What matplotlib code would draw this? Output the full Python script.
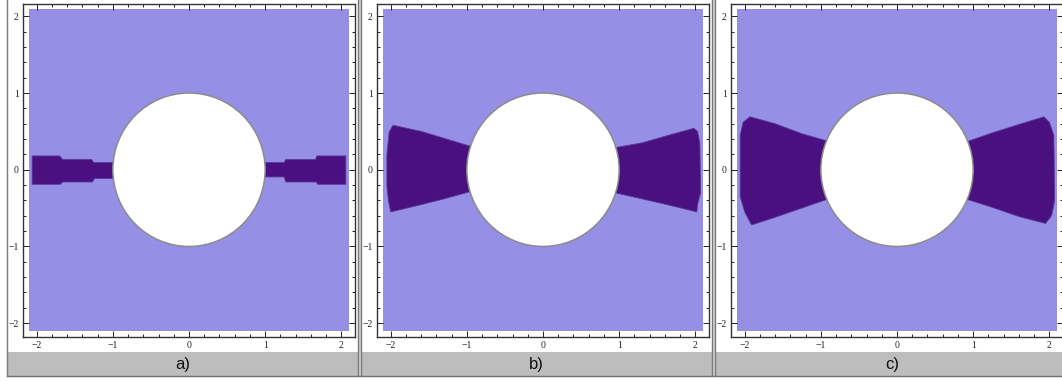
import matplotlib

matplotlib.use("Agg")
import matplotlib.pyplot as plt
from matplotlib.patches import Circle, Polygon, Rectangle
from matplotlib.ticker import MultipleLocator

W, H = 1062, 381
LIGHT, DARK, RIM, BAR = "#958fe6", "#4a1080", "#8c8c8c", "#bdbdbd"

PANEL_LABELS = ["a)", "b)", "c)"]
TICKS = [-2, -1, 0, 1, 2]
PLOT_RANGE = 2.1   # extent of the region plot
DISC_R = 1.0

# dark lobes as (x, y) outlines; the ends near the disc run underneath it
LOBE_A_LEFT = [(-2.06, 0.18), (-1.70, 0.18), (-1.66, 0.135), (-1.28, 0.135), (-1.25, 0.095),
               (-0.9, 0.095), (-0.9, -0.115), (-1.24, -0.115), (-1.27, -0.16), (-1.66, -0.16),
               (-1.69, -0.19), (-2.06, -0.19)]
LOBE_A_RIGHT = [(0.9, 0.094), (1.25, 0.094), (1.27, 0.133), (1.66, 0.133), (1.68, 0.18),
                (2.06, 0.18), (2.06, -0.19), (1.69, -0.19), (1.67, -0.16), (1.27, -0.16),
                (1.25, -0.094), (0.9, -0.094)]
LOBE_B_LEFT = [(-1.97, 0.58), (-1.60, 0.50), (-1.30, 0.41), (-0.90, 0.29), (-0.90, -0.27),
               (-1.30, -0.38), (-1.62, -0.46), (-2.00, -0.55), (-2.03, -0.40), (-2.05, -0.22),
               (-2.05, 0.20), (-2.02, 0.49)]
LOBE_B_RIGHT = [(0.90, 0.28), (1.30, 0.35), (1.65, 0.45), (1.98, 0.54), (2.03, 0.50),
                (2.06, 0.35), (2.07, -0.30), (2.03, -0.45), (2.02, -0.55), (1.65, -0.46),
                (1.30, -0.38), (0.90, -0.29)]
LOBE_C_LEFT = [(-1.93, 0.69), (-1.60, 0.60), (-1.25, 0.47), (-0.90, 0.37), (-0.90, -0.38),
               (-1.25, -0.50), (-1.60, -0.62), (-1.91, -0.72), (-2.00, -0.55), (-2.06, -0.35),
               (-2.06, 0.45), (-2.02, 0.62)]
LOBE_C_RIGHT = [(0.90, 0.36), (1.25, 0.48), (1.60, 0.59), (1.93, 0.69), (2.00, 0.62),
                (2.06, 0.45), (2.07, -0.40), (2.03, -0.60), (1.95, -0.70), (1.60, -0.61),
                (1.25, -0.49), (0.90, -0.38)]
LOBES = [(LOBE_A_LEFT, LOBE_A_RIGHT), (LOBE_B_LEFT, LOBE_B_RIGHT), (LOBE_C_LEFT, LOBE_C_RIGHT)]

# layout in pixels: frame left edges, frame size, cell separators, label bar
AX_LEFT_PX = [23, 377, 731]
AX_W_PX, AX_TOP_PX, AX_BOT_PX = 332, 4, 337
CELL_EDGES_PX = [(7, 358), (361, 712), (715, 1069)]
BAR_TOP_PX, BAR_BOT_PX = 352, 376
LIM = 2.18


def px_box(x0, y0, x1, y1):
    """pixel box (top-left origin) -> figure-fraction [left, bottom, width, height]"""
    return [x0 / W, 1 - y1 / H, (x1 - x0) / W, (y1 - y0) / H]


def fig_rect(fig, x0, y0, x1, y1, color):
    l, b, w, h = px_box(x0, y0, x1, y1)
    fig.add_artist(Rectangle((l, b), w, h, transform=fig.transFigure,
                             facecolor=color, edgecolor="none", zorder=0))


def signed(t):
    return f"{t:g}".replace("-", "\u2212")


fig = plt.figure(figsize=(W / 100, H / 100), dpi=100)
fig.patch.set_facecolor("white")

# label bar along the bottom and the light fill between double cell rules
fig_rect(fig, 7, BAR_TOP_PX, W, BAR_BOT_PX, BAR)
for a, b in ((358, 361), (712, 715)):
    fig_rect(fig, a, 0, b, BAR_BOT_PX, "#d4d4d4")

for i, (label, lobes) in enumerate(zip(PANEL_LABELS, LOBES)):
    x0 = AX_LEFT_PX[i]
    ax = fig.add_axes(px_box(x0, AX_TOP_PX, x0 + AX_W_PX, AX_BOT_PX))
    ax.set_xlim(-LIM, LIM)
    ax.set_ylim(-LIM, LIM - 0.02)
    ax.add_patch(Rectangle((-PLOT_RANGE, -PLOT_RANGE), 2 * PLOT_RANGE, 2 * PLOT_RANGE,
                           facecolor=LIGHT, edgecolor="none", zorder=1))
    for pts in lobes:
        ax.add_patch(Polygon(pts, closed=True, facecolor=DARK, edgecolor="#5a3a9a",
                             lw=0.6, joinstyle="round", zorder=2))
    ax.add_patch(Circle((0, 0), DISC_R, facecolor="white", edgecolor=RIM, lw=1.1, zorder=3))

    ax.set_xticks(TICKS, [signed(t) for t in TICKS])
    ax.set_yticks(TICKS, [signed(t) for t in TICKS])
    ax.xaxis.set_minor_locator(MultipleLocator(0.2))
    ax.yaxis.set_minor_locator(MultipleLocator(0.2))
    ax.tick_params(which="both", direction="in", top=True, right=True, color="#222222",
                   width=0.7, labelsize=7, pad=3, labelcolor="#222222")
    ax.tick_params(which="major", length=4.5)
    ax.tick_params(which="minor", length=2.5)
    for lab in ax.get_xticklabels() + ax.get_yticklabels():
        lab.set_fontfamily("Liberation Serif")
    for s in ax.spines.values():
        s.set_color("#333333")
        s.set_linewidth(1.0)

    c0, c1 = CELL_EDGES_PX[i]
    fig.text(((c0 + c1) / 2) / W, 1 - ((BAR_TOP_PX + BAR_BOT_PX) / 2 + 1) / H, label,
             ha="center", va="center", fontsize=12, family="Liberation Sans", color="#111111")

# cell frame rules
fig.add_artist(plt.Line2D([7 / W, 1], [1 - BAR_BOT_PX / H] * 2, transform=fig.transFigure,
                          color="#6e6e6e", lw=1.0))
for xs in (7, 358, 361, 712, 715):
    fig.add_artist(plt.Line2D([xs / W] * 2, [1 - BAR_BOT_PX / H, 1], transform=fig.transFigure,
                              color="#7a7a7a", lw=1.0))

fig.savefig("out.png", dpi=100, facecolor="white")
